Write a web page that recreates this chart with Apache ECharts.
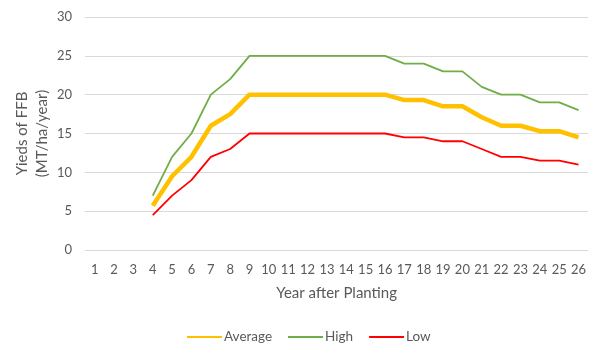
<!DOCTYPE html>
<html>
<head>
<meta charset="utf-8">
<script src="https://cdn.jsdelivr.net/npm/echarts@6/dist/echarts.min.js"></script>
<style>
  html, body { margin: 0; padding: 0; background: #fff; }
  #chart { width: 589px; height: 346px; }
</style>
</head>
<body>
<div id="chart"></div>
<script>
// Years after planting (x categories)
const years = ['1','2','3','4','5','6','7','8','9','10','11','12','13','14','15','16','17','18','19','20','21','22','23','24','25','26'];

// Yield of fresh fruit bunches, MT/ha/year (no yield in years 1-3)
const averageYield = [null, null, null, 5.7, 9.5, 12, 16, 17.5, 20, 20, 20, 20, 20, 20, 20, 20, 19.3, 19.3, 18.5, 18.5, 17.1, 16, 16, 15.3, 15.3, 14.5];
const highYield    = [null, null, null, 7, 12, 15, 20, 22, 25, 25, 25, 25, 25, 25, 25, 25, 24, 24, 23, 23, 21, 20, 20, 19, 19, 18];
const lowYield     = [null, null, null, 4.5, 7, 9, 12, 13, 15, 15, 15, 15, 15, 15, 15, 15, 14.5, 14.5, 14, 14, 13, 12, 12, 11.5, 11.5, 11];

const textColor = '#595959';
const fontFamily = 'Lato, "Liberation Sans", sans-serif';

const chart = echarts.init(document.getElementById('chart'), null, { renderer: 'canvas' });

chart.setOption({
  animation: false,
  textStyle: { fontFamily: fontFamily },
  grid: { left: 85, right: -3, top: 17, bottom: 96, containLabel: false },
  legend: {
    bottom: -3,
    left: 181,
    itemWidth: 35,
    itemHeight: 12,
    itemGap: 15,
    // hide the marker dot so the key shows only the line
    itemStyle: { opacity: 0 },
    textStyle: { color: textColor, fontSize: 13.5, fontFamily: fontFamily, padding: [0, 0, 0, -3] },
    data: ['Average', 'High', 'Low']
  },
  xAxis: {
    type: 'category',
    data: years,
    boundaryGap: true,
    name: 'Year after Planting',
    nameLocation: 'middle',
    nameGap: 36,
    nameTextStyle: { color: textColor, fontSize: 15, fontFamily: fontFamily },
    axisLine: { show: false },
    axisTick: { show: false },
    axisLabel: { color: textColor, fontSize: 13, margin: 13, interval: 0, fontFamily: fontFamily }
  },
  yAxis: {
    type: 'value',
    min: 0,
    max: 30,
    interval: 5,
    name: 'Yieds of FFB\n(MT/ha/year)',
    nameLocation: 'middle',
    nameRotate: 90,
    nameGap: 33,
    nameMoveOverlap: false,
    nameTextStyle: { color: textColor, fontSize: 15, lineHeight: 20, fontFamily: fontFamily },
    axisLine: { show: false },
    axisTick: { show: false },
    axisLabel: { color: textColor, fontSize: 13, margin: 13, fontFamily: fontFamily },
    splitLine: { lineStyle: { color: '#d9d9d9', width: 1 } }
  },
  series: [
    {
      name: 'Average', type: 'line', data: averageYield, symbol: 'none',
      lineStyle: { color: '#FFC000', width: 4.5 }, itemStyle: { color: '#FFC000' }, z: 3
    },
    {
      name: 'High', type: 'line', data: highYield, symbol: 'none',
      lineStyle: { color: '#70AD47', width: 1.8 }, itemStyle: { color: '#70AD47' }, z: 2
    },
    {
      name: 'Low', type: 'line', data: lowYield, symbol: 'none',
      lineStyle: { color: '#FF0000', width: 1.8 }, itemStyle: { color: '#FF0000' }, z: 2
    }
  ]
});
</script>
</body>
</html>
